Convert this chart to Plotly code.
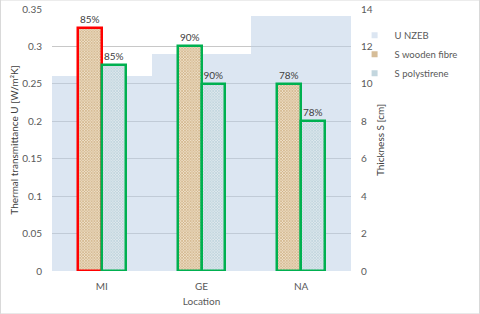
import plotly.graph_objects as go

locations = ["MI", "GE", "NA"]
u_nzeb = [0.26, 0.29, 0.34]
s_wooden = [13, 12, 10]
s_polystyrene = [11, 10, 8]
pct_wooden = ["85%", "90%", "78%"]
pct_polystyrene = ["85%", "90%", "78%"]
outline_wooden = ["#ff0000", "#00b050", "#00b050"]
outline_poly = ["#00b050", "#00b050", "#00b050"]

xpos = list(range(len(locations)))
FONT = "Lato"
TXT = "#595959"

fig = go.Figure()

fig.add_trace(go.Bar(
    x=xpos, y=u_nzeb, width=1, name="U NZEB", showlegend=False,
    marker=dict(color="rgba(185,205,229,0.5)", line=dict(width=0)),
    yaxis="y", hoverinfo="skip"))

fig.add_trace(go.Bar(
    x=xpos, y=s_wooden, width=0.24, offset=-0.24, name="S wooden fibre",
    showlegend=False, yaxis="y2",
    text=pct_wooden, textposition="outside", cliponaxis=False,
    textfont=dict(family=FONT, size=10, color="#404040"),
    marker=dict(color="#ead9bf",
                pattern=dict(shape="x", size=2, solidity=0.5, fgcolor="#c7a676", bgcolor="#efe0c9",
                             fillmode="replace"),
                line=dict(color=outline_wooden, width=2.5))))

fig.add_trace(go.Bar(
    x=xpos, y=s_polystyrene, width=0.24, offset=0, name="S polystirene",
    showlegend=False, yaxis="y2",
    text=pct_polystyrene, textposition="outside", cliponaxis=False,
    textfont=dict(family=FONT, size=10, color="#404040"),
    marker=dict(color="#d6e3e8",
                pattern=dict(shape="x", size=2, solidity=0.5, fgcolor="#b3cbd5", bgcolor="#dfe9ee",
                             fillmode="replace"),
                line=dict(color=outline_poly, width=2.5))))

# legend entries
for nm, col in [("U NZEB", "#dce6f2"), ("S wooden fibre", "#d6bd98"), ("S polystirene", "#c3d6de")]:
    fig.add_trace(go.Scatter(x=[None], y=[None], mode="markers", name=nm,
                             marker=dict(symbol="square", size=6, color=col)))

fig.update_layout(
    width=480, height=314,
    margin=dict(l=52, r=129, t=9, b=43, autoexpand=False),
    paper_bgcolor="white", plot_bgcolor="white",
    barmode="overlay", bargap=0,
    font=dict(family=FONT, size=10, color=TXT),
    showlegend=True,
    legend=dict(x=1.012, y=0.955, xanchor="left", yanchor="top",
                font=dict(family=FONT, size=9.5, color=TXT),
                itemwidth=30, tracegroupgap=0, bgcolor="rgba(0,0,0,0)"),
    xaxis=dict(range=[-0.5, 2.5], tickvals=xpos, ticktext=locations,
               showgrid=False, zeroline=False, showline=False, ticks="",
               automargin=False, ticklabelstandoff=8,
               title=dict(text="Location", standoff=6, font=dict(size=10, color=TXT))),
    yaxis=dict(range=[0, 0.35], dtick=0.05, showgrid=True, gridcolor="#c8c8c8",
               gridwidth=1, zeroline=False, showline=False, ticks="",
               ticklabelstandoff=9, automargin=True,
               title=dict(text="Thermal transmittance U [W/m²K]", standoff=1,
                          font=dict(size=10, color="#404040"))),
    yaxis2=dict(range=[0, 14], dtick=2, overlaying="y", side="right",
                showgrid=False, zeroline=False, showline=False, ticks="",
                ticklabelstandoff=9, automargin=False,
                title=dict(text="Thickness S [cm]", standoff=5,
                           font=dict(size=10, color="#404040"))),
    shapes=[dict(type="rect", xref="paper", yref="paper",
                 x0=-51.5/299, x1=1+128.5/299, y0=-42.8/261.2, y1=1+9/261.2,
                 line=dict(color="#d9d9d9", width=1), layer="below")],
)

fig.write_html("out.html", config={"displayModeBar": False},
               post_script="document.body.style.margin='0';document.body.style.padding='0';")
